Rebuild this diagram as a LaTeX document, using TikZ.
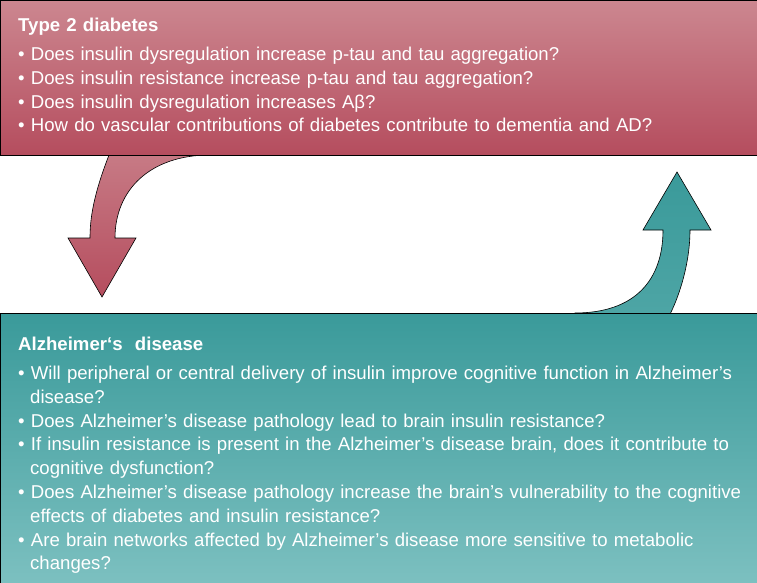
\documentclass[tikz,border=0pt]{standalone}
\usepackage{fontspec}
\setmainfont{Liberation Sans}
\usetikzlibrary{positioning}

\definecolor{redtop}{HTML}{CC8790}
\definecolor{redbot}{HTML}{B54D5E}
\definecolor{tealtop}{HTML}{3A9A9A}
\definecolor{tealbot}{HTML}{7CC0C0}

\newcommand{\qitem}[1]{\par\hangindent=12pt\hangafter=1\textbullet\ #1\par}

\begin{document}
\begin{tikzpicture}[
		x=1pt, y=-1pt,
		boxtext/.style={text=white, font=\fontsize{18.6}{23.8}\selectfont, text width=730pt, align=left, inner sep=0pt, anchor=north west}
	]
	\useasboundingbox (0,0) rectangle (757,583);

	% red arrow going down
	\draw [top color=redtop!80!redbot, bottom color=redbot, line width=0.6pt]
		(111,150) .. controls (95,190) and (90,215) .. (90,238) -- (68,238) -- (102,297) -- (136,238) -- (115,238)
		.. controls (115,190) and (150,155) .. (210,155) -- cycle;

	% teal arrow going up
	\draw [top color=tealtop, bottom color=tealtop!70!tealbot, line width=0.6pt]
		(575,318) -- (575,313) .. controls (635,313) and (663,280) .. (663,230) -- (643,230) -- (677,172) -- (711,230) -- (690,230)
		.. controls (690,265) and (678,300) .. (668,318) -- cycle;

	% type 2 diabetes box
	\draw [top color=redtop, bottom color=redbot, line width=0.6pt] (0,0) rectangle (757,155);
	\node [boxtext] (diab) at (18,18) {\raggedright\hyphenpenalty=10000\textbf{Type 2 diabetes}\par\vspace{5pt}
		\qitem{Does insulin dysregulation increase p-tau and tau aggregation?}
		\qitem{Does insulin resistance increase p-tau and tau aggregation?}
		\qitem{Does insulin dysregulation increases Aβ?}
		\qitem{How do vascular contributions of diabetes contribute to dementia and AD?}};

	% alzheimer's disease box
	\draw [top color=tealtop, bottom color=tealbot, line width=0.6pt] (0,313) rectangle (757,583);
	\node [boxtext] (alz) at (18,337) {\raggedright\hyphenpenalty=10000\textbf{Alzheimer‘s\ \ disease}\par\vspace{5pt}
		\qitem{Will peripheral or central delivery of insulin improve cognitive function in Alzheimer’s disease?}
		\qitem{Does Alzheimer’s disease pathology lead to brain insulin resistance?}
		\qitem{If insulin resistance is present in the Alzheimer’s disease brain, does it contribute to cognitive dysfunction?}
		\qitem{Does Alzheimer’s disease pathology increase the brain’s vulnerability to the cognitive effects of diabetes and insulin resistance?}
		\qitem{Are brain networks affected by Alzheimer’s disease more sensitive to metabolic changes?}};
\end{tikzpicture}
\end{document}
